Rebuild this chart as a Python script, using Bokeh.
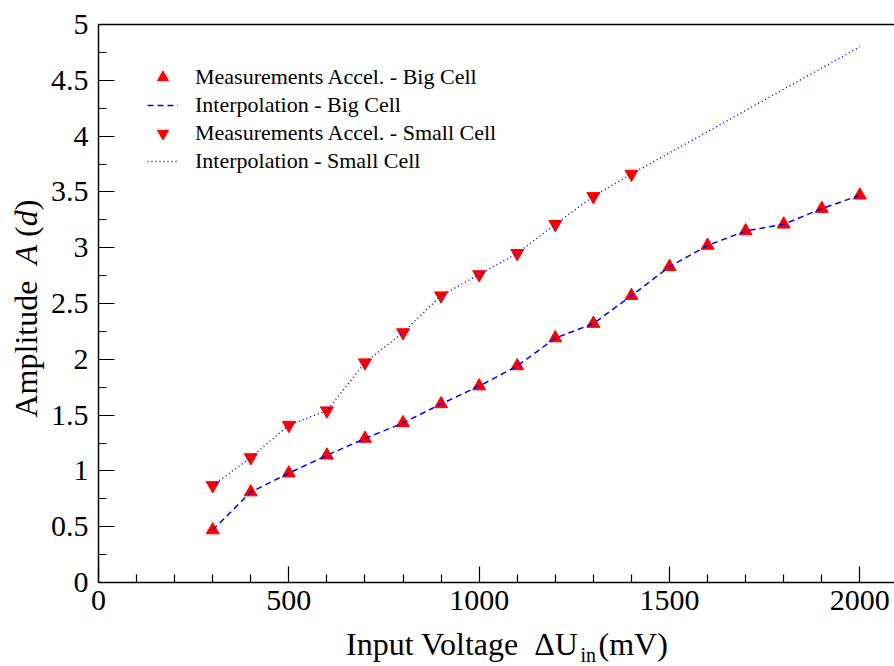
import math
from bokeh.plotting import figure
from bokeh.layouts import row, column
from bokeh.models import Range1d, FixedTicker, LinearAxis, Label, Legend, LegendItem
from bokeh.embed import file_html
from bokeh.resources import INLINE

# ---- data ----
voltage_big = [300, 400, 500, 600, 700, 800, 900, 1000, 1100, 1200, 1300, 1400,
               1500, 1600, 1700, 1800, 1900, 2000]
amp_big = [0.47, 0.81, 0.98, 1.14, 1.29, 1.43, 1.60, 1.76, 1.94, 2.19, 2.32, 2.57,
           2.83, 3.02, 3.15, 3.21, 3.35, 3.47]

voltage_small = [300, 400, 500, 600, 700, 800, 900, 1000, 1100, 1200, 1300, 1400]
amp_small = [0.87, 1.12, 1.41, 1.54, 1.97, 2.24, 2.57, 2.76, 2.95, 3.21, 3.46, 3.66]

interp_big_x = voltage_big
interp_big_y = amp_big
interp_small_x = voltage_small + [2000]
interp_small_y = amp_small + [4.80]

x_ticks = [0, 500, 1000, 1500, 2000]
x_tick_labels = ["0", "500", "1000", "1500", "2000"]
x_minor = [v for v in range(100, 2100, 100) if v % 500 != 0]
y_ticks = [0, 0.5, 1, 1.5, 2, 2.5, 3, 3.5, 4, 4.5, 5]
y_tick_labels = ["0", "0.5", "1", "1.5", "2", "2.5", "3", "3.5", "4", "4.5", "5"]
y_minor = [0.25, 0.75, 1.25, 1.75, 2.25, 2.75, 3.25, 3.75, 4.25, 4.75]

legend_labels = ["Measurements Accel. - Big Cell", "Interpolation - Big Cell",
                 "Measurements Accel. - Small Cell", "Interpolation - Small Cell"]

SERIF = "Liberation Serif"

p = figure(width=848, height=626, x_range=Range1d(0, 2091), y_range=Range1d(0, 5),
           output_backend="svg", toolbar_location=None,
           min_border_left=52, min_border_right=0, min_border_top=24, min_border_bottom=44)
p.grid.visible = False
p.outline_line_color = None
p.background_fill_color = "white"
p.border_fill_color = "white"

def style_axis(ax, ticks, labels, minor):
    ax.ticker = FixedTicker(ticks=ticks, minor_ticks=minor)
    ax.major_label_overrides = {t: l for t, l in zip(ticks, labels)}
    ax.major_tick_in = 16
    ax.major_tick_out = 0
    ax.minor_tick_in = 8
    ax.minor_tick_out = 0
    ax.axis_line_width = 1.5
    ax.axis_line_color = "black"
    ax.major_tick_line_width = 1.2
    ax.minor_tick_line_width = 1.2
    ax.major_tick_line_color = "black"
    ax.minor_tick_line_color = "black"
    ax.major_label_text_font = SERIF
    ax.major_label_text_font_size = "30px"
    ax.major_label_text_color = "black"

style_axis(p.xaxis[0], x_ticks, x_tick_labels, x_minor)
style_axis(p.yaxis[0], y_ticks, y_tick_labels, y_minor)
p.xaxis[0].major_label_standoff = 8
p.yaxis[0].major_label_standoff = 10

top_axis = LinearAxis(ticker=FixedTicker(ticks=[]), major_label_text_font_size="0px",
                      major_tick_in=0, major_tick_out=0, minor_tick_in=0, minor_tick_out=0,
                      axis_line_width=1.5, axis_line_color="black")
p.add_layout(top_axis, "above")

# markers first, lines on top
r_big_m = p.scatter(voltage_big, amp_big, marker="triangle", size=13,
                    fill_color="red", line_color="red", line_width=1)
r_small_m = p.scatter(voltage_small, amp_small, marker="inverted_triangle", size=13,
                      fill_color="red", line_color="red", line_width=1)
r_big_l = p.line(interp_big_x, interp_big_y, line_color="#0000ff", line_width=1.5,
                 line_dash="6 4")
r_small_l = p.line(interp_small_x, interp_small_y, line_color="#0000ff", line_width=1.5,
                   line_dash="1 3")

legend = Legend(items=[
    LegendItem(label=legend_labels[0], renderers=[r_big_m]),
    LegendItem(label=legend_labels[1], renderers=[r_big_l]),
    LegendItem(label=legend_labels[2], renderers=[r_small_m]),
    LegendItem(label=legend_labels[3], renderers=[r_small_l]),
], location=(49, 407))
legend.border_line_color = None
legend.background_fill_alpha = 0
legend.padding = 0
legend.margin = 0
legend.spacing = 0
legend.glyph_width = 31
legend.glyph_height = 28
legend.label_height = 28
legend.label_standoff = 17
legend.label_text_font = SERIF
legend.label_text_font_size = "22px"
legend.label_text_color = "black"
p.add_layout(legend)

def text_canvas(w, h):
    f = figure(width=w, height=h, x_range=Range1d(0, 1), y_range=Range1d(0, 1),
               output_backend="svg", toolbar_location=None,
               x_axis_location=None, y_axis_location=None, min_border=0,
               min_border_left=0, min_border_right=0, min_border_top=0, min_border_bottom=0)
    f.grid.visible = False
    f.outline_line_color = None
    f.background_fill_color = "white"
    f.border_fill_color = "white"
    return f

def lab(fig, text, x, y, size="32px", align="left", angle=0.0, style="normal"):
    fig.add_layout(Label(text=text, x=x, y=y, x_units="screen", y_units="screen",
                         text_font=SERIF, text_font_size=size, text_align=align,
                         text_baseline="middle", angle=angle, text_color="black",
                         text_font_style=style))

# x axis title (with subscript); frame of this strip lines up with the plot frame
fx = text_canvas(848, 40)
lab(fx, "Input Voltage\u00a0 \u0394U", 480, 23, align="right")
lab(fx, "in", 482, 12, size="20px")
lab(fx, "(mV)", 500, 23)

# y axis title
fy = text_canvas(46, 666)
rot = math.pi / 2
lab(fy, "Amplitude", 25, 249, angle=rot)
lab(fy, "A", 25, 402, angle=rot, style="italic")
lab(fy, "(", 25, 429.5, angle=rot)
lab(fy, "d", 25, 440.2, angle=rot, style="italic")
lab(fy, ")", 25, 456.2, angle=rot)

layout = row(fy, column(p, fx, spacing=0), spacing=0)
open("out.html", "w").write(file_html(layout, INLINE))
